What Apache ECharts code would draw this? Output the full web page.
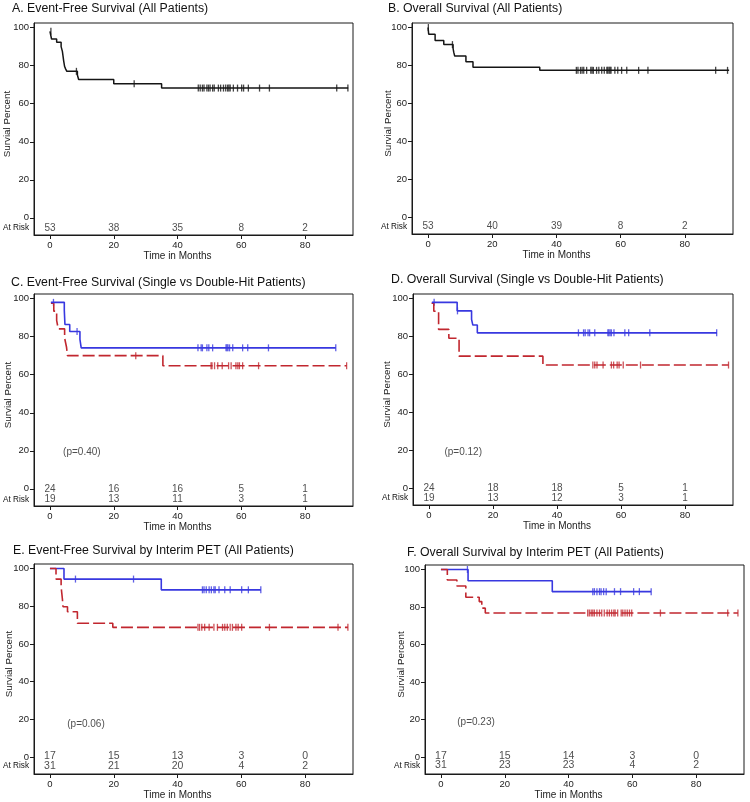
<!DOCTYPE html>
<html>
<head>
<meta charset="utf-8">
<script src="https://cdn.jsdelivr.net/npm/echarts@6/dist/echarts.min.js"></script>
<style>
html,body{margin:0;padding:0;background:#fff;}
#chart{width:750px;height:802px;}
</style>
</head>
<body>
<div id="chart"></div>
<script>
// ---------- data ----------
const xTicks = [0, 20, 40, 60, 80];
const yTicks = [0, 20, 40, 60, 80, 100];
const riskTimes = [0, 20, 40, 60, 80];

const titleA = 'A. Event-Free Survival (All Patients)';
const titleB = 'B. Overall Survival (All Patients)';
const titleC = 'C. Event-Free Survival (Single vs Double-Hit Patients)';
const titleD = 'D. Overall Survival (Single vs Double-Hit Patients)';
const titleE = 'E. Event-Free Survival by Interim PET (All Patients)';
const titleF = 'F. Overall Survival by Interim PET (All Patients)';

// Panel A
const efsAllCurve = [[0,98],[0.5,94],[2.1,92.3],[3.5,90],[3.9,87.5],[4.1,85],[4.3,82.5],[4.6,79.5],[4.9,78.3],[5.3,77],[8.6,75.1],[9.0,72.7],[20,70.5],[35,68.2],[93.5,68.2]];
const efsAllCensor = [0.3, 8.3, 26.4, 46.5, 47.1, 47.8, 48.3, 49.2, 49.7, 50.2, 51.0, 51.5, 52.8, 53.5, 54.4, 55.1, 55.7, 56.1, 56.5, 57.5, 58.8, 60.1, 60.7, 62.2, 65.7, 68.8, 89.9, 93.4];
const efsAllRisk = [53, 38, 35, 8, 2];

// Panel B
const osAllCurve = [[0,100],[0.2,96.5],[2.2,93.2],[4.9,91],[7.8,89],[8.0,87],[8.3,85],[11.8,82],[14,79],[34.8,77.4],[93.8,77.4]];
const osAllCensor = [0.1, 7.6, 46.2, 46.7, 47.5, 48.0, 48.5, 49.4, 50.7, 51.1, 51.5, 52.5, 53.2, 54.1, 54.9, 55.7, 56.0, 56.4, 56.7, 57.0, 58.2, 59.1, 60.3, 61.9, 65.6, 68.5, 89.6, 93.3];
const osAllRisk = [53, 40, 39, 8, 2];

// Panel C
const efsSingleCurve = [[0.3,98],[4.5,93.8],[4.7,86.4],[6.2,82.7],[9.4,78.5],[9.8,74.1],[89.6,74.1]];
const efsSingleCensor = [1.1, 8.5, 46.4, 47.4, 47.8, 49.2, 49.8, 51.0, 55.2, 55.5, 55.8, 56.3, 57.3, 60.4, 62.0, 68.5, 89.6];
const efsDoubleCurve = [[0.3,97.5],[1.2,93.4],[2.1,88.5],[2.6,84.1],[4.6,79.2],[5.2,74.4],[5.5,70.0],[35.4,64.7],[93.0,64.7]];
const efsDoubleCensor = [26.9, 50.5, 50.8, 51.6, 52.6, 54.0, 56.0, 56.8, 58.3, 58.9, 59.4, 60.4, 65.4, 93.0];
const efsSingleRisk = [24, 16, 16, 5, 1];
const efsDoubleRisk = [19, 13, 11, 3, 1];
const pC = '(p=0.40)';

// Panel D
const osSingleCurve = [[0.9,98],[8.8,93.5],[13.3,89],[13.7,86],[15.1,81.9],[90,81.9]];
const osSingleCensor = [1.6, 8.9, 46.7, 48.3, 48.8, 49.7, 50.2, 51.8, 55.9, 56.2, 56.6, 57.0, 57.8, 61.2, 62.4, 69.0, 89.9];
const osDoubleCurve = [[0.8,97.5],[1.5,93.3],[3.0,83.7],[6.2,79],[9.4,69.6],[35.6,64.9],[93.6,64.9]];
const osDoubleCensor = [51.2, 51.8, 52.5, 54.4, 57.0, 57.7, 58.8, 59.4, 60.7, 66.1, 93.6];
const osSingleRisk = [24, 18, 18, 5, 1];
const osDoubleRisk = [19, 13, 12, 3, 1];
const pD = '(p=0.12)';

// Panel E
const efsPetNegCurve = [[0,100],[4.4,94.4],[34.9,88.7],[66.1,88.7]];
const efsPetNegCensor = [8.0, 26.2, 47.8, 48.3, 49.0, 49.9, 50.6, 51.4, 51.8, 53.0, 54.8, 56.5, 60.1, 62.2, 66.1];
const efsPetPosCurve = [[0,100],[1.9,94.4],[3.5,90.3],[3.7,87.1],[3.9,83.9],[4.1,79.7],[5.5,77.1],[8.6,71.0],[19.7,68.8],[93.4,68.8]];
const efsPetPosCensor = [46.4, 46.9, 47.6, 48.5, 49.9, 51.4, 52.5, 54.1, 54.8, 55.6, 56.5, 57.2, 58.3, 59.0, 60.1, 68.8, 90.3, 93.4];
const efsPetNegRisk = [17, 15, 13, 3, 0];
const efsPetPosRisk = [31, 21, 20, 4, 2];
const pE = '(p=0.06)';

// Panel F
const osPetNegCurve = [[0,100],[8.5,94.0],[34.9,88.2],[65.9,88.2]];
const osPetNegCensor = [8.3, 47.6, 48.1, 48.9, 49.7, 50.2, 51.0, 51.8, 54.4, 56.3, 60.4, 62.2, 65.9];
const osPetPosCurve = [[0,100],[2.0,94.4],[5.0,91.2],[7.8,85.2],[12,82.9],[12.8,79.4],[13.9,76.8],[93.1,76.8]];
const osPetPosCensor = [46.0, 46.5, 47.1, 47.6, 48.1, 48.9, 49.7, 50.4, 51.2, 52.1, 52.8, 53.5, 54.2, 54.6, 55.4, 56.5, 57.0, 57.7, 58.4, 59.1, 59.8, 68.8, 89.9, 93.1];
const osPetNegRisk = [17, 15, 14, 3, 0];
const osPetPosRisk = [31, 23, 23, 4, 2];
const pF = '(p=0.23)';

// ---------- styling / layout ----------
const BLACK = '#151515', BLUE = '#3838e0', RED = '#c1272f';
const FONT = 'Liberation Sans';
const TXT = '#222';
const DASH = [12, 4];

const panels = [
  { title: titleA, tl: [12, 3], grid: {left: 34, top: 23, width: 319, height: 212},
    curves: [{d: efsAllCurve, c: efsAllCensor, col: BLACK, dash: false, w: 1.5}],
    risk: [efsAllRisk], rows: [-5.2], atRisk: -5.2, p: null, yGap: 21.5 },
  { title: titleB, tl: [388, 3], grid: {left: 412, top: 23, width: 321, height: 211},
    curves: [{d: osAllCurve, c: osAllCensor, col: BLACK, dash: false, w: 1.5}],
    risk: [osAllRisk], rows: [-5.0], atRisk: -5.0, p: null, yGap: 19 },
  { title: titleC, tl: [11, 277], grid: {left: 34, top: 294, width: 319, height: 212},
    curves: [{d: efsDoubleCurve, c: efsDoubleCensor, col: RED, dash: true, w: 1.6},
             {d: efsSingleCurve, c: efsSingleCensor, col: BLUE, dash: false, w: 1.6}],
    risk: [efsSingleRisk, efsDoubleRisk], rows: [0, -5.5], atRisk: -5.5, p: [pC, 10, 19.4], yGap: 20.5 },
  { title: titleD, tl: [391, 274], grid: {left: 413, top: 294, width: 320, height: 211},
    curves: [{d: osDoubleCurve, c: osDoubleCensor, col: RED, dash: true, w: 1.6},
             {d: osSingleCurve, c: osSingleCensor, col: BLUE, dash: false, w: 1.6}],
    risk: [osSingleRisk, osDoubleRisk], rows: [0, -5.3], atRisk: -5.3, p: [pD, 10.7, 18.7], yGap: 20.5 },
  { title: titleE, tl: [13, 545], grid: {left: 34, top: 564, width: 319, height: 210},
    curves: [{d: efsPetNegCurve, c: efsPetNegCensor, col: BLUE, dash: false, w: 1.6},
             {d: efsPetPosCurve, c: efsPetPosCensor, col: RED, dash: true, w: 1.6}],
    risk: [efsPetNegRisk, efsPetPosRisk], rows: [0.5, -4.8], atRisk: -4.8, p: [pE, 11.3, 17.6], yGap: 19.5 },
  { title: titleF, tl: [407, 547], grid: {left: 425, top: 565, width: 319, height: 209},
    curves: [{d: osPetNegCurve, c: osPetNegCensor, col: BLUE, dash: false, w: 1.6},
             {d: osPetPosCurve, c: osPetPosCensor, col: RED, dash: true, w: 1.6}],
    risk: [osPetNegRisk, osPetPosRisk], rows: [0.5, -4.5], atRisk: -4.5, p: [pF, 11, 18.5], yGap: 19 }
];

function kmValue(curve, t) {
  let v = curve[0][1];
  for (const pt of curve) { if (pt[0] <= t) v = pt[1]; else break; }
  return v;
}

const option = {
  animation: false,
  backgroundColor: '#fff',
  title: [], grid: [], xAxis: [], yAxis: [], series: []
};

panels.forEach((p, i) => {
  option.title.push({
    text: p.title, left: p.tl[0], top: p.tl[1], padding: 0,
    textStyle: {fontFamily: FONT, fontSize: 12.3, fontWeight: 'normal', color: '#111'}
  });
  option.grid.push(Object.assign({show: true, borderColor: '#1a1a1a', borderWidth: 1,
    containLabel: false, outerBoundsMode: 'none'}, p.grid));
  option.xAxis.push({
    type: 'value', gridIndex: i, min: -5, max: 95,
    name: 'Time in Months', nameLocation: 'middle', nameGap: 13,
    nameTextStyle: {fontFamily: FONT, fontSize: 10, color: TXT, padding: [0, 32, 0, 0]},
    axisLine: {show: true, onZero: false, lineStyle: {color: '#1a1a1a', width: 1}},
    axisTick: {show: true, customValues: xTicks, length: 4, lineStyle: {color: '#1a1a1a'}},
    axisLabel: {customValues: xTicks, margin: 5, fontFamily: FONT, fontSize: 9.5, color: TXT},
    splitLine: {show: false}
  });
  option.yAxis.push({
    type: 'value', gridIndex: i, min: -9, max: 102.4,
    name: 'Survial Percent', nameLocation: 'middle', nameGap: p.yGap, nameMoveOverlap: false,
    nameTextStyle: {fontFamily: FONT, fontSize: 9.8, color: TXT, padding: [0, 0, 0, 10]},
    axisLine: {show: true, onZero: false, lineStyle: {color: '#1a1a1a', width: 1}},
    axisTick: {show: true, customValues: yTicks, length: 4, lineStyle: {color: '#1a1a1a'}},
    axisLabel: {customValues: yTicks.concat([p.atRisk]), margin: 5, fontFamily: FONT, fontSize: 9.5, color: TXT,
      formatter: v => (Math.abs(v - p.atRisk) < 1e-6 ? '{ar|At Risk}' : String(v)),
      rich: {ar: {fontFamily: FONT, fontSize: 8.2, color: '#111'}}},
    splitLine: {show: false}
  });
  p.curves.forEach(cv => {
    option.series.push({
      type: 'line', step: 'end', xAxisIndex: i, yAxisIndex: i, data: cv.d,
      symbol: 'none', silent: true,
      lineStyle: {color: cv.col, width: cv.w, type: cv.dash ? DASH : 'solid', cap: 'butt'}
    });
    option.series.push({
      type: 'scatter', xAxisIndex: i, yAxisIndex: i,
      data: cv.c.map(t => [t, kmValue(cv.d, t)]),
      symbol: 'rect', symbolSize: [1.3, 7], silent: true,
      itemStyle: {color: cv.col}
    });
  });
  p.risk.forEach((row, r) => {
    option.series.push({
      type: 'scatter', xAxisIndex: i, yAxisIndex: i, symbolSize: 0, silent: true,
      data: riskTimes.map((t, j) => [t, p.rows[r], row[j]]),
      label: {show: true, position: 'inside', formatter: q => q.value[2],
        fontFamily: FONT, fontSize: i >= 4 ? 10.5 : 10, color: TXT}
    });
  });
  if (p.p) {
    option.series.push({
      type: 'scatter', xAxisIndex: i, yAxisIndex: i, symbolSize: 0, silent: true,
      data: [[p.p[1], p.p[2]]],
      label: {show: true, position: 'inside', formatter: p.p[0], fontFamily: FONT, fontSize: 10, color: TXT}
    });
  }
});

const chart = echarts.init(document.getElementById('chart'), null, {renderer: 'canvas'});
chart.setOption(option);
</script>
</body>
</html>
